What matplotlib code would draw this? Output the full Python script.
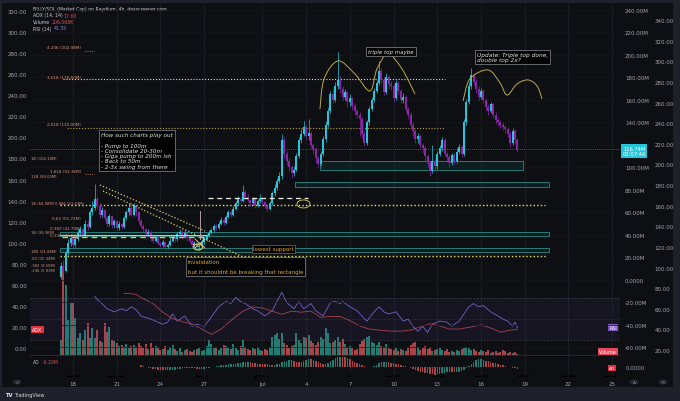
import numpy as np
import matplotlib
matplotlib.use("Agg")
import matplotlib.pyplot as plt
from matplotlib.patches import Rectangle, Ellipse, PathPatch, Circle
from matplotlib.path import Path

# ---- data (4h candles, market cap in M) ----
first_open = 3
close = [12, 8, 24, 33, 37, 31, 36, 42, 45, 40, 50, 47,
         60, 64, 72, 66, 58, 62, 55, 50, 57, 49, 52, 46,
         50, 47, 55, 60, 64, 58, 66, 60, 52, 48, 45, 41,
         43, 37, 35, 38, 33, 31, 34, 29, 31, 35, 38, 36,
         41, 43, 38, 42, 37, 35, 31, 33, 29, 30, 34, 36,
         39, 42, 44, 48, 46, 50, 53, 51, 56, 60, 58, 63,
         68, 72, 70, 78, 74, 71, 68, 72, 66, 70, 73, 69,
         66, 63, 68, 77, 82, 88, 92, 124, 112, 106, 100, 95,
         98, 110, 124, 130, 136, 128, 131, 120, 116, 108, 103, 112,
         125, 138, 150, 165, 160, 172, 178, 170, 163, 167, 158, 162,
         155, 150, 147, 143, 130, 122, 140, 152, 160, 168, 175, 186,
         178, 167, 180, 174, 172, 162, 175, 168, 160, 163, 152, 147,
         138, 132, 125, 128, 120, 117, 110, 104, 97, 106, 101, 112,
         117, 124, 112, 109, 104, 111, 106, 114, 118, 112, 140, 158,
         172, 182, 176, 170, 163, 168, 160, 154, 150, 156, 147, 142,
         140, 138, 136, 134, 130, 122, 132, 124, 116.74]
high = [16, 18, 27, 36, 41, 39, 38, 45, 48, 47, 53, 52,
        63, 70, 85, 75, 68, 65, 63, 57, 59, 58, 54, 53,
        52, 51, 57, 62, 68, 69, 68, 67, 61, 54, 50, 46,
        45, 44, 39, 40, 39, 34, 36, 35, 33, 37, 40, 39,
        43, 45, 44, 44, 43, 38, 36, 35, 34, 32, 36, 38,
        41, 44, 46, 50, 50, 52, 56, 55, 58, 62, 62, 66,
        70, 75, 74, 84, 80, 76, 72, 74, 73, 72, 76, 74,
        70, 67, 70, 79, 85, 91, 96, 130, 127, 115, 108, 102,
        101, 113, 127, 134, 141, 138, 143, 132, 122, 118, 110, 115,
        128, 141, 154, 168, 170, 176, 203, 181, 172, 170, 168, 165,
        163, 157, 152, 149, 145, 132, 142, 155, 163, 171, 178, 195,
        188, 180, 184, 182, 177, 174, 178, 177, 170, 166, 164, 154,
        149, 140, 134, 131, 130, 122, 119, 112, 106, 120, 108, 115,
        120, 127, 126, 114, 111, 113, 113, 117, 121, 120, 143, 161,
        176, 188, 184, 179, 172, 171, 170, 162, 156, 158, 157, 149,
        144, 142, 140, 138, 136, 132, 135, 134, 126]
low = [1, 5, 7, 22, 30, 28, 29, 35, 40, 37, 39, 44,
       46, 58, 62, 63, 55, 56, 52, 47, 48, 46, 46, 44,
       44, 45, 46, 53, 58, 56, 57, 57, 50, 46, 43, 39,
       39, 35, 33, 34, 31, 29, 29, 27, 28, 30, 34, 34,
       35, 40, 36, 37, 35, 33, 29, 29, 27, 27, 29, 32,
       35, 38, 41, 43, 44, 45, 49, 49, 50, 55, 56, 57,
       62, 67, 68, 69, 72, 69, 66, 67, 64, 65, 68, 67,
       64, 61, 62, 67, 75, 80, 86, 90, 108, 102, 97, 91,
       92, 97, 108, 122, 128, 125, 124, 117, 112, 104, 100, 101,
       110, 123, 136, 148, 157, 158, 170, 166, 160, 160, 154, 155,
       151, 147, 144, 128, 126, 119, 120, 138, 150, 158, 166, 173,
       175, 164, 165, 171, 169, 158, 160, 165, 157, 157, 149, 143,
       135, 128, 122, 122, 117, 113, 106, 100, 92, 95, 98, 99,
       110, 115, 109, 105, 100, 102, 103, 104, 112, 109, 110, 138,
       156, 170, 173, 166, 160, 161, 157, 151, 147, 148, 144, 139,
       137, 135, 133, 131, 127, 118, 120, 121, 114]
volume_k = [600, 3480, 2800, 1400, 2100, 2100, 1480, 680, 880, 600, 1000, 1280,
            700, 1080, 680, 1000, 560, 520, 1280, 920, 1120, 600, 560, 480,
            360, 400, 320, 440, 280, 360, 400, 320, 480, 360, 280, 440,
            240, 480, 280, 360, 320, 200, 240, 360, 200, 320, 400, 240,
            160, 280, 120, 200, 240, 160, 120, 200, 240, 280, 160, 200,
            360, 600, 440, 280, 320, 200, 280, 400, 360, 280, 240, 440,
            280, 200, 360, 600, 320, 240, 200, 280, 240, 320, 200, 160,
            240, 200, 320, 720, 800, 880, 640, 880, 480, 400, 280, 360,
            400, 880, 600, 480, 720, 680, 800, 560, 480, 400, 520, 720,
            640, 1080, 880, 480, 520, 600, 720, 520, 640, 440, 320, 360,
            280, 200, 240, 440, 560, 640, 720, 760, 520, 480, 400, 520,
            360, 320, 440, 280, 240, 200, 280, 160, 240, 200, 160, 280,
            400, 480, 520, 320, 200, 280, 360, 240, 320, 160, 200, 240,
            280, 200, 160, 240, 120, 160, 120, 200, 160, 240, 280, 320,
            280, 200, 240, 160, 120, 200, 160, 120, 200, 80, 120, 160,
            80, 120, 200, 160, 80, 120, 80, 120, 60]

# RSI(14) and ADX(14,14) at these candle indices
rsi_idx = [14, 15, 17, 19, 22, 25, 27, 29, 31, 33, 37, 42, 44, 46, 48,
           51, 54, 56, 59, 62, 65, 68, 70, 72, 74, 76, 79, 81, 84, 87,
           89, 91, 93, 96, 98, 100, 103, 105, 108, 111, 113, 115, 116, 119, 122,
           124, 126, 129, 131, 133, 135, 138, 141, 143, 145, 147, 149, 151, 153, 156,
           159, 161, 164, 166, 168, 170, 172, 174, 177, 180, 182, 184, 186, 187, 188]
rsi_val = [72, 69, 65, 60, 57, 60, 58, 62, 59, 53, 50, 45, 47, 55, 48,
           53, 43, 45, 43, 52, 62, 67, 65, 71, 67, 65, 60, 58, 53, 58,
           67, 76, 66, 60, 67, 60, 65, 58, 53, 66, 67, 65, 67, 62, 58,
           53, 48, 57, 62, 57, 55, 57, 48, 50, 43, 38, 43, 37, 45, 48,
           47, 43, 48, 55, 62, 65, 62, 63, 57, 53, 50, 48, 43, 47, 41.55]
adx_idx = [26, 31, 33, 38, 42, 46, 50, 54, 58, 62, 66, 71, 75, 79, 83,
           87, 91, 95, 99, 103, 107, 111, 115, 119, 123, 127, 131, 136, 140, 144,
           148, 152, 156, 160, 164, 169, 173, 177, 181, 185, 188]
adx_val = [52, 51, 48, 42, 34, 28, 25, 23, 18, 13, 18, 28, 35, 39, 38,
           35, 32, 35, 34, 35, 29, 30, 30, 26, 21, 18, 17, 16, 16, 17,
           20, 23, 21, 18, 18, 20, 22, 19, 15, 17, 17.6]

start_day = -5 / 6          # first candle: Jun 17 04:00 (day 0 = Jun 18)
tick_days = [0, 3, 6, 9, 13, 16, 19, 22, 25, 28, 31, 34, 37]
tick_labels = ["18", "21", "24", "27", "Jul", "4", "7", "10", "13", "16", "19", "22", "25"]

o = np.array([first_open] + close[:-1], float)
c = np.array(close, float)
h = np.array(high, float)
l = np.array(low, float)
n = len(c)
t = start_day + np.arange(n) / 6

# Awesome Oscillator from the candles
med = (h + l) / 2
sma5 = np.convolve(med, np.ones(5) / 5, "valid")
sma34 = np.convolve(med, np.ones(34) / 34, "valid")
ao = np.full(n, np.nan)
ao[33:] = sma5[29:] - sma34

# ---- colours ----
BG = "#0e0f13"
FRAME = "#1e2129"
TXT = "#a3a6af"
UP, DN = "#26c6da", "#8e24aa"
VUP, VDN = "#1f7d72", "#a8444a"
GOLD = "#e0c44a"
FS = 4

fig = plt.figure(figsize=(6.8, 4.02), dpi=100, facecolor=FRAME)
fig.patches.append(Rectangle((2 / 680, 1 - 388 / 402), 671 / 680, 384 / 402,
                             transform=fig.transFigure, fc=BG, ec="none", zorder=-5))

rect = [30 / 680, 1 - 356 / 402, 590 / 680, 352 / 402]
xlim = (-2.95, 37.54)

axv = fig.add_axes(rect)
axv.set_facecolor(BG)
axv.set_xlim(*xlim)
axv.set_ylim(0, 14080)
axv.set_xticks([])
axv.set_yticks([])
for d in tick_days:
    axv.axvline(d, color="#1b1e25", lw=0.6, zorder=0)

axr = axv.twinx()
axa = axv.twinx()
ax = axv.twinx()
for a in (axv, axr, axa, ax):
    for s in a.spines.values():
        s.set_visible(False)

# volume
vcol = [VUP if c[i] >= o[i] else VDN for i in range(n)]
axv.bar(t, volume_k, width=0.13, color=vcol, zorder=2)

# RSI on its own right scale
axr.set_ylim(15.15, 356.5)
axr.axhspan(30, 70, color="#7e57c2", alpha=0.09, lw=0)
axr.axhline(70, color="#50535e", lw=0.4, ls=(0, (3, 3)))
axr.axhline(30, color="#50535e", lw=0.4, ls=(0, (3, 3)))
axr.axhline(50, color="#50535e", lw=0.4, ls=(0, (1, 2)))
axr.plot(t[rsi_idx], rsi_val, color="#6f62c9", lw=0.6)
axr.set_yticks(np.arange(20, 341, 20))
axr.set_yticklabels([f"{v:.2f}" for v in range(20, 341, 20)])
axr.spines["right"].set_position(("outward", 23.5))
axr.tick_params(axis="y", length=0, pad=1.5, labelsize=FS, labelcolor=TXT)

# ADX on left scale
axa.set_ylim(-6.65, 327.6)
axa.plot(t[adx_idx], adx_val, color="#a8434f", lw=0.6)
axa.yaxis.tick_left()
axa.set_yticks(np.arange(0, 321, 20))
axa.set_yticklabels([f"{v:.2f}" for v in range(0, 321, 20)])
axa.tick_params(axis="y", length=0, pad=2.2, labelsize=FS, labelcolor=TXT)

# price
ax.set_zorder(5)
ax.set_xlim(*xlim)
ax.set_ylim(-66.7, 246.2)
mt = np.arange(-60, 241, 20)
ax.set_yticks(mt)
# 120.00M sits under the live price tag
ax.set_yticklabels(["0.0000" if v == 0 else ("" if v == 120 else f"{v:.2f}M") for v in mt])
ax.tick_params(axis="y", length=0, pad=3.6, labelsize=FS, labelcolor=TXT)
for v in mt:
    ax.axhline(v, color="#15171c", lw=0.5, zorder=0)

ccol = [UP if c[i] >= o[i] else DN for i in range(n)]
ax.vlines(t, l, h, colors=ccol, lw=0.5, zorder=3)
ax.bar(t, np.maximum(abs(c - o), 0.6), bottom=np.minimum(o, c), width=0.13,
       color=ccol, zorder=4)

# ---- drawings ----
dot = (0, (1, 1.6))
ax.hlines(116.74, *xlim, color="#6fa8b0", lw=0.5, ls=(0, (1, 2)), zorder=2)
ax.hlines(178.8, -0.69, 25.5, color="#e8e2c4", lw=0.8, ls=dot, zorder=2)
ax.hlines(135.0, -0.41, 25.5, color="#b8a040", lw=0.8, ls=dot, zorder=2)
ax.hlines(66.7, -0.9, 32.4, color="#e8e060", lw=1.0, ls=dot, zorder=2)
ax.hlines(21.3, -0.9, 32.5, color="#e8e060", lw=1.0, ls=dot, zorder=2)
ax.hlines([203.6, 94.2], 0.82, 1.44, color="#d09070", lw=0.6, ls=dot)
ax.hlines(40.0, -0.9, 9.2, color="#efe9b0", lw=0.6, zorder=5)
ax.hlines(38.2, -0.75, 9.2, color=GOLD, lw=1.0, ls=(0, (4, 3)), zorder=5)
ax.hlines(72.9, 9.27, 16.13, color="#f0efe0", lw=0.9, ls=(0, (4, 3)), zorder=5)

for x0, x1, y0, y1 in [(-0.9, 32.7, 39.1, 42.7), (-0.9, 32.7, 24.9, 28.4),
                       (16.95, 30.9, 97.8, 105.8), (15.24, 32.67, 82.7, 87.1)]:
    ax.add_patch(Rectangle((x0, y0), x1 - x0, y1 - y0, fc="#0e3a3a", alpha=0.35,
                           ec="none", zorder=1))
    ax.add_patch(Rectangle((x0, y0), x1 - x0, y1 - y0, fc="none", ec="#2a8a86",
                           lw=0.6, zorder=2))

ax.plot([1.85, 9.06], [84.4, 43.6], color="#d8d070", lw=0.9, ls=dot, zorder=5)
ax.plot([2.06, 12.97], [79.1, 12.4], color="#d8d070", lw=0.9, ls=dot, zorder=5)
ax.plot([8.72, 8.72], [61.3, 36.4], color="#b89aa0", lw=0.7, zorder=5)
ax.plot([8.37, 9.06], [36.4, 28.4], color="#e0dcd0", lw=0.6, zorder=5)
ax.plot([9.06, 8.37], [36.4, 28.4], color="#e0dcd0", lw=0.6, zorder=5)
ax.add_patch(Ellipse((8.58, 29.3), 0.62, 5.3, fc="none", ec=GOLD, lw=0.9, zorder=6))
ax.add_patch(Ellipse((15.82, 67.6), 0.89, 7.1, fc="none", ec="#c8b850", lw=0.7, zorder=6))


def smooth(px, py):
    verts = [(px[0], py[0])]
    codes = [Path.MOVETO]
    m = len(px)
    for k in range(m - 1):
        a0 = max(k - 1, 0)
        a3 = min(k + 2, m - 1)
        verts += [(px[k] + (px[k + 1] - px[a0]) / 6, py[k] + (py[k + 1] - py[a0]) / 6),
                  (px[k + 1] - (px[a3] - px[k]) / 6, py[k + 1] - (py[a3] - py[k]) / 6),
                  (px[k + 1], py[k + 1])]
        codes += [Path.CURVE4] * 3
    return Path(verts, codes)


arc1_d = [16.95, 17.23, 18.19, 19.35, 20.38, 20.86, 21.62, 22.58, 23.47]
arc1_m = [152.0, 178.7, 194.7, 183.1, 168.0, 187.6, 200.9, 187.6, 165.3]
arc2_d = [26.77, 27.24, 28.48, 29.31, 29.79, 30.47, 31.23, 31.85, 32.19]
arc2_m = [159.1, 178.7, 186.7, 175.1, 164.4, 174.2, 177.8, 172.4, 160.9]
for xs, ys in [(arc1_d, arc1_m), (arc2_d, arc2_m)]:
    ax.add_patch(PathPatch(smooth(xs, ys), fc="none", ec="#bba94c", lw=0.7, zorder=6))

# fib labels: right-aligned ones end near the candles, "1B" ones start at the pane edge
fib_col = "#d4957a"
for txt, xd, ym in [("4.236 (202.98M)", 0.55, 207.1), ("3.618 (178.80M)", 0.55, 180.4),
                    ("2.618 (135.00M)", 0.55, 138.7), ("1.618 (93.36M)", 0.55, 96.9),
                    ("0.62 (51.72M)", 0.55, 55.1),
                    ("0.382 (41.79M)", 0.55, 46.6), ("0.236 (36.72M)", 0.55, 39.6)]:
    ax.text(xd, ym, txt, color=fib_col, fontsize=3.0, ha="right", va="center", zorder=7)
ax.text(0.75, 68.4, "0.886 (61.63M)", color=fib_col, fontsize=2.7, ha="right",
        va="center", zorder=7)
for txt, ym in [("1B (104.18M)", 108.4), ("11B (89.00M)", 92.4), ("1B (64.98M)", 68.4),
                ("1B (39.36M)", 43.0), ("1B0 (21.88M)", 25.8), (".62 (15.34M)", 19.6),
                (".382 (9.50M)", 13.3), (".236 (5.91M)", 8.9)]:
    ax.text(-2.88, ym, txt, color=fib_col, fontsize=2.7, ha="left", va="center", zorder=7)

box = dict(boxstyle="square,pad=0.35", fc="#000000", ec="#8a8d94", lw=0.5)
ax.text(1.95, 131.2, "How such charts play out\n\n- Pump to 100m\n- Consolidate 20-30m\n"
        "- Giga pump to 200m ish\n- Back to 50m\n- 2-3x swing from there",
        color="#e6e6e6", fontsize=4.1, style="italic", va="top", ha="left",
        linespacing=1.05, bbox=box, zorder=8)
ax.text(20.25, 203.4, "triple top maybe", color="#e6e6e6", fontsize=4, style="italic",
        va="center", ha="left", bbox=box, zorder=8)
ax.text(27.73, 202.4, "Update: Triple top done,\ndouble top 2x?", color="#e6e6e6",
        fontsize=4.2, style="italic", va="top", ha="left", linespacing=1.0,
        bbox=box, zorder=8)
ax.text(7.89, 18.4, "Invalidation\n\nbut it shouldnt be breaking that rectangle",
        color="#e2ad3c", fontsize=4, va="top", ha="left", linespacing=1.0,
        bbox=box, zorder=8)
ax.text(12.35, 27.6, "lowest support", color="#e2ad3c", fontsize=4, va="center",
        ha="left", bbox=dict(boxstyle="square,pad=0.25", fc="#000000", ec="#6a6d74", lw=0.5),
        zorder=8)

# ---- AO pane ----
axo = fig.add_axes([30 / 680, 1 - 376 / 402, 590 / 680, 20 / 402], sharex=axv)
axo.set_facecolor(BG)
for s in axo.spines.values():
    s.set_visible(False)
aocol = [VUP if i > 0 and ao[i] >= ao[i - 1] else VDN for i in range(n)]
axo.bar(t, np.nan_to_num(ao), width=0.1, color=aocol)
hi = np.nanmax(np.abs(ao)) * 1.15
axo.set_ylim(-hi * 8 / 12, hi)
for d in tick_days:
    axo.axvline(d, color="#1b1e25", lw=0.6, zorder=0)
axo.yaxis.tick_right()
axo.set_yticks([0])
axo.set_yticklabels(["0.0000"])
axo.set_xticks(tick_days)
axo.set_xticklabels(tick_labels)
axo.tick_params(axis="y", length=0, pad=4.2, labelsize=FS, labelcolor=TXT)
axo.tick_params(axis="x", length=0, pad=4.5, labelsize=FS, labelcolor=TXT)
axo.set_xlim(*xlim)
fig.add_artist(plt.Line2D([30 / 680, 620 / 680], [1 - 356 / 402] * 2,
                          transform=fig.transFigure, color="#2a2d35", lw=0.6))


# ---- fixed UI text / tags ----
def fx(x):
    return x / 680


def fy(y):
    return 1 - y / 402


fig.text(fx(33), fy(10), "BILLY/SOL (Market Cap) on Raydium, 4h, dexscreener.com",
         color="#c9ccd4", fontsize=3.3, va="center")
for lab, val, vx, y, vc in [("ADX (14, 14)", "17.60", 63, 16, "#e05050"),
                            ("Volume", "206.068K", 52, 23, "#e05050"),
                            ("RSI (14)", "41.55", 54, 29, "#8c7fe0")]:
    fig.text(fx(33), fy(y), lab, color="#c9ccd4", fontsize=3.3, va="center")
    fig.text(fx(vx), fy(y), val, color=vc, fontsize=3.3, va="center")
fig.text(fx(33), fy(363), "AO", color="#c9ccd4", fontsize=3.3, va="center")
fig.text(fx(43), fy(363), "-0.20M", color="#e05050", fontsize=3.3, va="center")

fig.text(fx(634), fy(152), "116.74M\n02:07:44", color="white", fontsize=3.7, ha="center",
         va="center", linespacing=1.1, zorder=10,
         bbox=dict(boxstyle="square,pad=0.3", fc="#26c6da", ec="none"))
tag = dict(fontsize=3.4, color="white", va="center")
fig.text(fx(617), fy(328.5), "RSI", ha="right",
         bbox=dict(boxstyle="square,pad=0.3", fc="#7e57c2", ec="none"), **tag)
fig.text(fx(617), fy(352.5), "Volume", ha="right",
         bbox=dict(boxstyle="square,pad=0.3", fc="#e5485a", ec="none"), **tag)
fig.text(fx(615), fy(369.0), "AO", ha="right", fontsize=3.2, color="white", va="center",
         bbox=dict(boxstyle="square,pad=0.25", fc="#e5303f", ec="none"))
fig.text(fx(32), fy(330.5), "ADX", ha="left",
         bbox=dict(boxstyle="square,pad=0.3", fc="#e5303f", ec="none"), **tag)

for cx, letter in [(17, "Z"), (634, "A"), (663, "R")]:
    fig.patches.append(Circle((fx(cx), fy(383)), 4.5 / 680, transform=fig.transFigure,
                              fc="#24272f", ec="none"))
    fig.text(fx(cx), fy(383), letter, color="#8a8d96", fontsize=3.2, ha="center", va="center")

fig.text(fx(5), fy(396), "TV", color="#e8e8e8", fontsize=3.8, weight="bold", va="center")
fig.text(fx(14), fy(396), "TradingView", color="#d8d8d8", fontsize=3.6, va="center")

fig.savefig("out.png", dpi=100, facecolor=FRAME)
